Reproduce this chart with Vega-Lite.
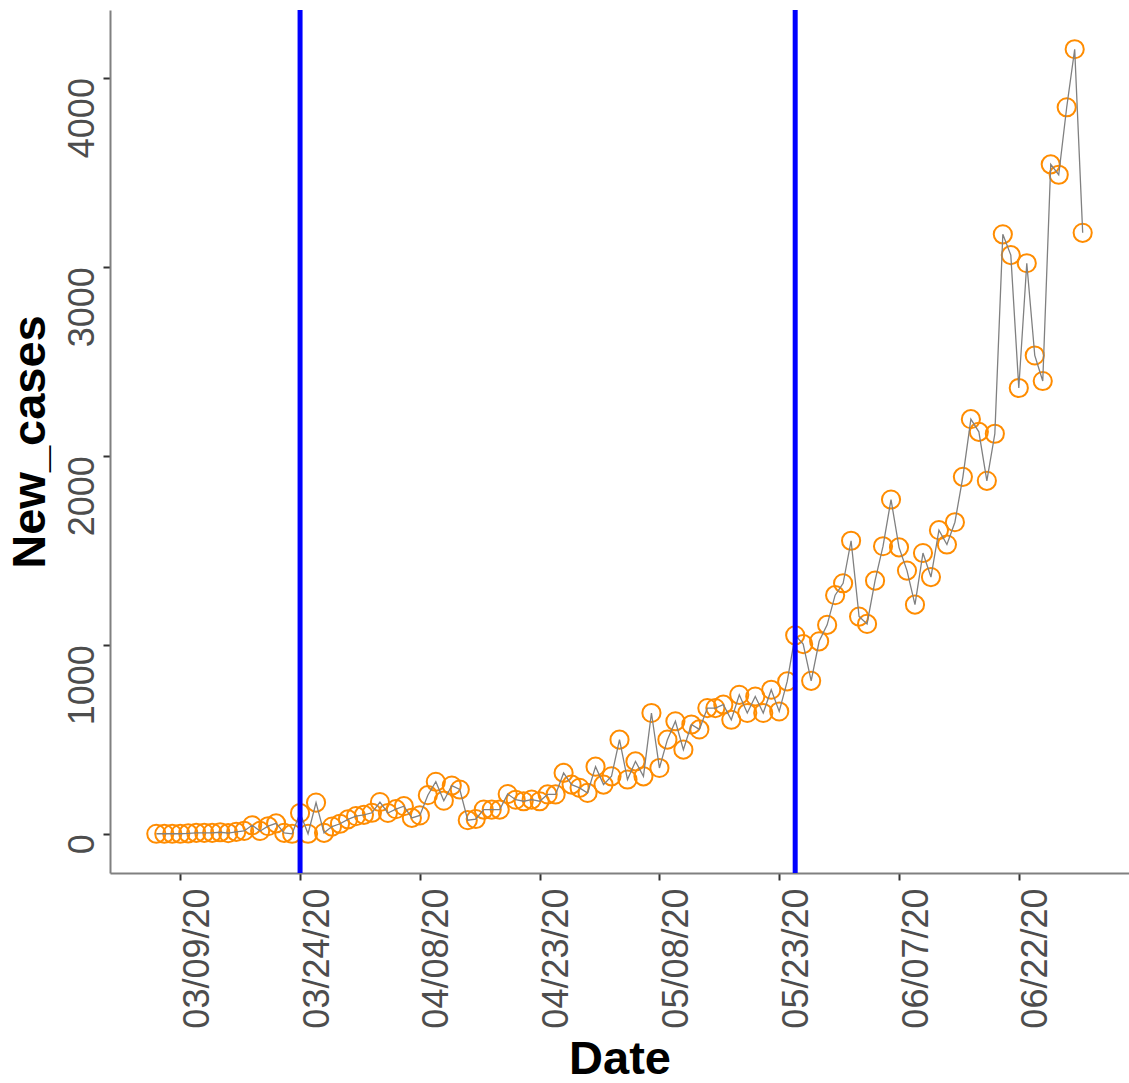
{
  "$schema": "https://vega.github.io/schema/vega-lite/v6.json",
  "autosize": "none",
  "width": 1019,
  "height": 863,
  "padding": {"left": 110, "top": 10, "right": 0, "bottom": 210},
  "background": "white",
  "config": {
    "view": {"stroke": null},
    "font": "Liberation Sans",
    "axis": {"grid": false}
  },
  "datasets": {
    "cases": [
      {"Date": "2020-03-06", "New_cases": 0},
      {"Date": "2020-03-07", "New_cases": 0},
      {"Date": "2020-03-08", "New_cases": 0},
      {"Date": "2020-03-09", "New_cases": 0},
      {"Date": "2020-03-10", "New_cases": 2},
      {"Date": "2020-03-11", "New_cases": 5},
      {"Date": "2020-03-12", "New_cases": 5},
      {"Date": "2020-03-13", "New_cases": 5},
      {"Date": "2020-03-14", "New_cases": 8},
      {"Date": "2020-03-15", "New_cases": 3},
      {"Date": "2020-03-16", "New_cases": 10},
      {"Date": "2020-03-17", "New_cases": 15},
      {"Date": "2020-03-18", "New_cases": 45},
      {"Date": "2020-03-19", "New_cases": 15},
      {"Date": "2020-03-20", "New_cases": 40},
      {"Date": "2020-03-21", "New_cases": 55},
      {"Date": "2020-03-22", "New_cases": 5},
      {"Date": "2020-03-23", "New_cases": 0},
      {"Date": "2020-03-24", "New_cases": 110},
      {"Date": "2020-03-25", "New_cases": 0},
      {"Date": "2020-03-26", "New_cases": 165},
      {"Date": "2020-03-27", "New_cases": 5},
      {"Date": "2020-03-28", "New_cases": 38},
      {"Date": "2020-03-29", "New_cases": 53},
      {"Date": "2020-03-30", "New_cases": 76},
      {"Date": "2020-03-31", "New_cases": 93},
      {"Date": "2020-04-01", "New_cases": 100},
      {"Date": "2020-04-02", "New_cases": 111},
      {"Date": "2020-04-03", "New_cases": 168},
      {"Date": "2020-04-04", "New_cases": 110},
      {"Date": "2020-04-05", "New_cases": 130},
      {"Date": "2020-04-06", "New_cases": 146},
      {"Date": "2020-04-07", "New_cases": 84},
      {"Date": "2020-04-08", "New_cases": 97},
      {"Date": "2020-04-09", "New_cases": 204},
      {"Date": "2020-04-10", "New_cases": 275},
      {"Date": "2020-04-11", "New_cases": 175},
      {"Date": "2020-04-12", "New_cases": 255},
      {"Date": "2020-04-13", "New_cases": 234},
      {"Date": "2020-04-14", "New_cases": 72},
      {"Date": "2020-04-15", "New_cases": 78},
      {"Date": "2020-04-16", "New_cases": 128},
      {"Date": "2020-04-17", "New_cases": 128},
      {"Date": "2020-04-18", "New_cases": 128},
      {"Date": "2020-04-19", "New_cases": 210},
      {"Date": "2020-04-20", "New_cases": 180},
      {"Date": "2020-04-21", "New_cases": 172},
      {"Date": "2020-04-22", "New_cases": 181},
      {"Date": "2020-04-23", "New_cases": 172},
      {"Date": "2020-04-24", "New_cases": 208},
      {"Date": "2020-04-25", "New_cases": 208},
      {"Date": "2020-04-26", "New_cases": 322},
      {"Date": "2020-04-27", "New_cases": 260},
      {"Date": "2020-04-28", "New_cases": 243},
      {"Date": "2020-04-29", "New_cases": 216},
      {"Date": "2020-04-30", "New_cases": 355},
      {"Date": "2020-05-01", "New_cases": 260},
      {"Date": "2020-05-02", "New_cases": 304},
      {"Date": "2020-05-03", "New_cases": 498},
      {"Date": "2020-05-04", "New_cases": 287},
      {"Date": "2020-05-05", "New_cases": 383},
      {"Date": "2020-05-06", "New_cases": 304},
      {"Date": "2020-05-07", "New_cases": 639},
      {"Date": "2020-05-08", "New_cases": 348},
      {"Date": "2020-05-09", "New_cases": 498},
      {"Date": "2020-05-10", "New_cases": 595},
      {"Date": "2020-05-11", "New_cases": 445},
      {"Date": "2020-05-12", "New_cases": 578},
      {"Date": "2020-05-13", "New_cases": 552},
      {"Date": "2020-05-14", "New_cases": 665},
      {"Date": "2020-05-15", "New_cases": 665},
      {"Date": "2020-05-16", "New_cases": 683},
      {"Date": "2020-05-17", "New_cases": 603},
      {"Date": "2020-05-18", "New_cases": 735},
      {"Date": "2020-05-19", "New_cases": 639},
      {"Date": "2020-05-20", "New_cases": 726},
      {"Date": "2020-05-21", "New_cases": 639},
      {"Date": "2020-05-22", "New_cases": 762},
      {"Date": "2020-05-23", "New_cases": 647},
      {"Date": "2020-05-24", "New_cases": 806},
      {"Date": "2020-05-25", "New_cases": 1050},
      {"Date": "2020-05-26", "New_cases": 1003},
      {"Date": "2020-05-27", "New_cases": 809},
      {"Date": "2020-05-28", "New_cases": 1018},
      {"Date": "2020-05-29", "New_cases": 1105},
      {"Date": "2020-05-30", "New_cases": 1262},
      {"Date": "2020-05-31", "New_cases": 1325},
      {"Date": "2020-06-01", "New_cases": 1550},
      {"Date": "2020-06-02", "New_cases": 1149},
      {"Date": "2020-06-03", "New_cases": 1110},
      {"Date": "2020-06-04", "New_cases": 1339},
      {"Date": "2020-06-05", "New_cases": 1521},
      {"Date": "2020-06-06", "New_cases": 1768},
      {"Date": "2020-06-07", "New_cases": 1515},
      {"Date": "2020-06-08", "New_cases": 1392},
      {"Date": "2020-06-09", "New_cases": 1212},
      {"Date": "2020-06-10", "New_cases": 1485},
      {"Date": "2020-06-11", "New_cases": 1358},
      {"Date": "2020-06-12", "New_cases": 1606},
      {"Date": "2020-06-13", "New_cases": 1530},
      {"Date": "2020-06-14", "New_cases": 1648},
      {"Date": "2020-06-15", "New_cases": 1888},
      {"Date": "2020-06-16", "New_cases": 2193},
      {"Date": "2020-06-17", "New_cases": 2126},
      {"Date": "2020-06-18", "New_cases": 1867},
      {"Date": "2020-06-19", "New_cases": 2116},
      {"Date": "2020-06-20", "New_cases": 3171},
      {"Date": "2020-06-21", "New_cases": 3061},
      {"Date": "2020-06-22", "New_cases": 2358},
      {"Date": "2020-06-23", "New_cases": 3018},
      {"Date": "2020-06-24", "New_cases": 2530},
      {"Date": "2020-06-25", "New_cases": 2395},
      {"Date": "2020-06-26", "New_cases": 3541},
      {"Date": "2020-06-27", "New_cases": 3486},
      {"Date": "2020-06-28", "New_cases": 3843},
      {"Date": "2020-06-29", "New_cases": 4150},
      {"Date": "2020-06-30", "New_cases": 3179}
    ],
    "vlines": [
      {"Date": "2020-03-24"},
      {"Date": "2020-05-25"}
    ]
  },
  "encoding": {
    "x": {
      "field": "Date",
      "type": "temporal",
      "scale": {
        "type": "utc",
        "domain": [
          {"year": 2020, "month": 2, "date": 29, "hours": 4, "minutes": 48, "utc": true},
          {"year": 2020, "month": 7, "date": 5, "hours": 19, "minutes": 12, "utc": true}
        ],
        "nice": false
      },
      "axis": {
        "title": "Date",
        "labelExpr": "utcFormat(datum.value, '%m/%d/%y')",
        "values": [
          {"year": 2020, "month": 3, "date": 9, "utc": true},
          {"year": 2020, "month": 3, "date": 24, "utc": true},
          {"year": 2020, "month": 4, "date": 8, "utc": true},
          {"year": 2020, "month": 4, "date": 23, "utc": true},
          {"year": 2020, "month": 5, "date": 8, "utc": true},
          {"year": 2020, "month": 5, "date": 23, "utc": true},
          {"year": 2020, "month": 6, "date": 7, "utc": true},
          {"year": 2020, "month": 6, "date": 22, "utc": true}
        ],
        "labelAngle": -90,
        "labelAlign": "right",
        "labelBaseline": "top",
        "labelPadding": 8,
        "labelFontSize": 36,
        "labelColor": "#4D4D4D",
        "labelOverlap": false,
        "labelFlush": false,
        "tickSize": 7,
        "tickWidth": 2,
        "tickColor": "#333333",
        "domainColor": "#808080",
        "domainWidth": 2,
        "titleFontSize": 47,
        "titleFontWeight": "bold",
        "titleColor": "#000000",
        "titleX": 509.5,
        "titleY": 200,
        "titleAlign": "center",
        "titleBaseline": "alphabetic"
      }
    }
  },
  "layer": [
    {
      "data": {"name": "cases"},
      "mark": {"type": "point", "shape": "circle", "filled": false, "color": "#FF8C00", "strokeWidth": 2, "size": 330, "opacity": 1},
      "encoding": {
        "y": {
          "field": "New_cases",
          "type": "quantitative",
          "scale": {"domain": [-207.5, 4357.5], "nice": false, "zero": false},
          "axis": {
            "title": "New_cases",
            "values": [0, 1000, 2000, 3000, 4000],
            "format": "d",
            "labelAngle": -90,
            "labelAlign": "right",
            "labelBaseline": "alphabetic",
            "labelPadding": 10,
            "labelFontSize": 36,
            "labelColor": "#4D4D4D",
            "labelOverlap": false,
            "labelFlush": false,
            "tickSize": 7,
            "tickWidth": 2,
            "tickColor": "#333333",
            "domainColor": "#808080",
            "domainWidth": 2,
            "titleFontSize": 47,
            "titleFontWeight": "bold",
            "titleColor": "#000000",
            "titleAngle": -90,
            "titleX": -66,
            "titleY": 431.5,
            "titleAlign": "center",
            "titleBaseline": "alphabetic"
          }
        }
      }
    },
    {
      "data": {"name": "cases"},
      "mark": {"type": "line", "color": "#808080", "strokeWidth": 1.3},
      "encoding": {
        "y": {"field": "New_cases", "type": "quantitative"}
      }
    },
    {
      "data": {"name": "vlines"},
      "mark": {"type": "rule", "color": "#0000FF", "strokeWidth": 5},
      "encoding": {}
    }
  ]
}
